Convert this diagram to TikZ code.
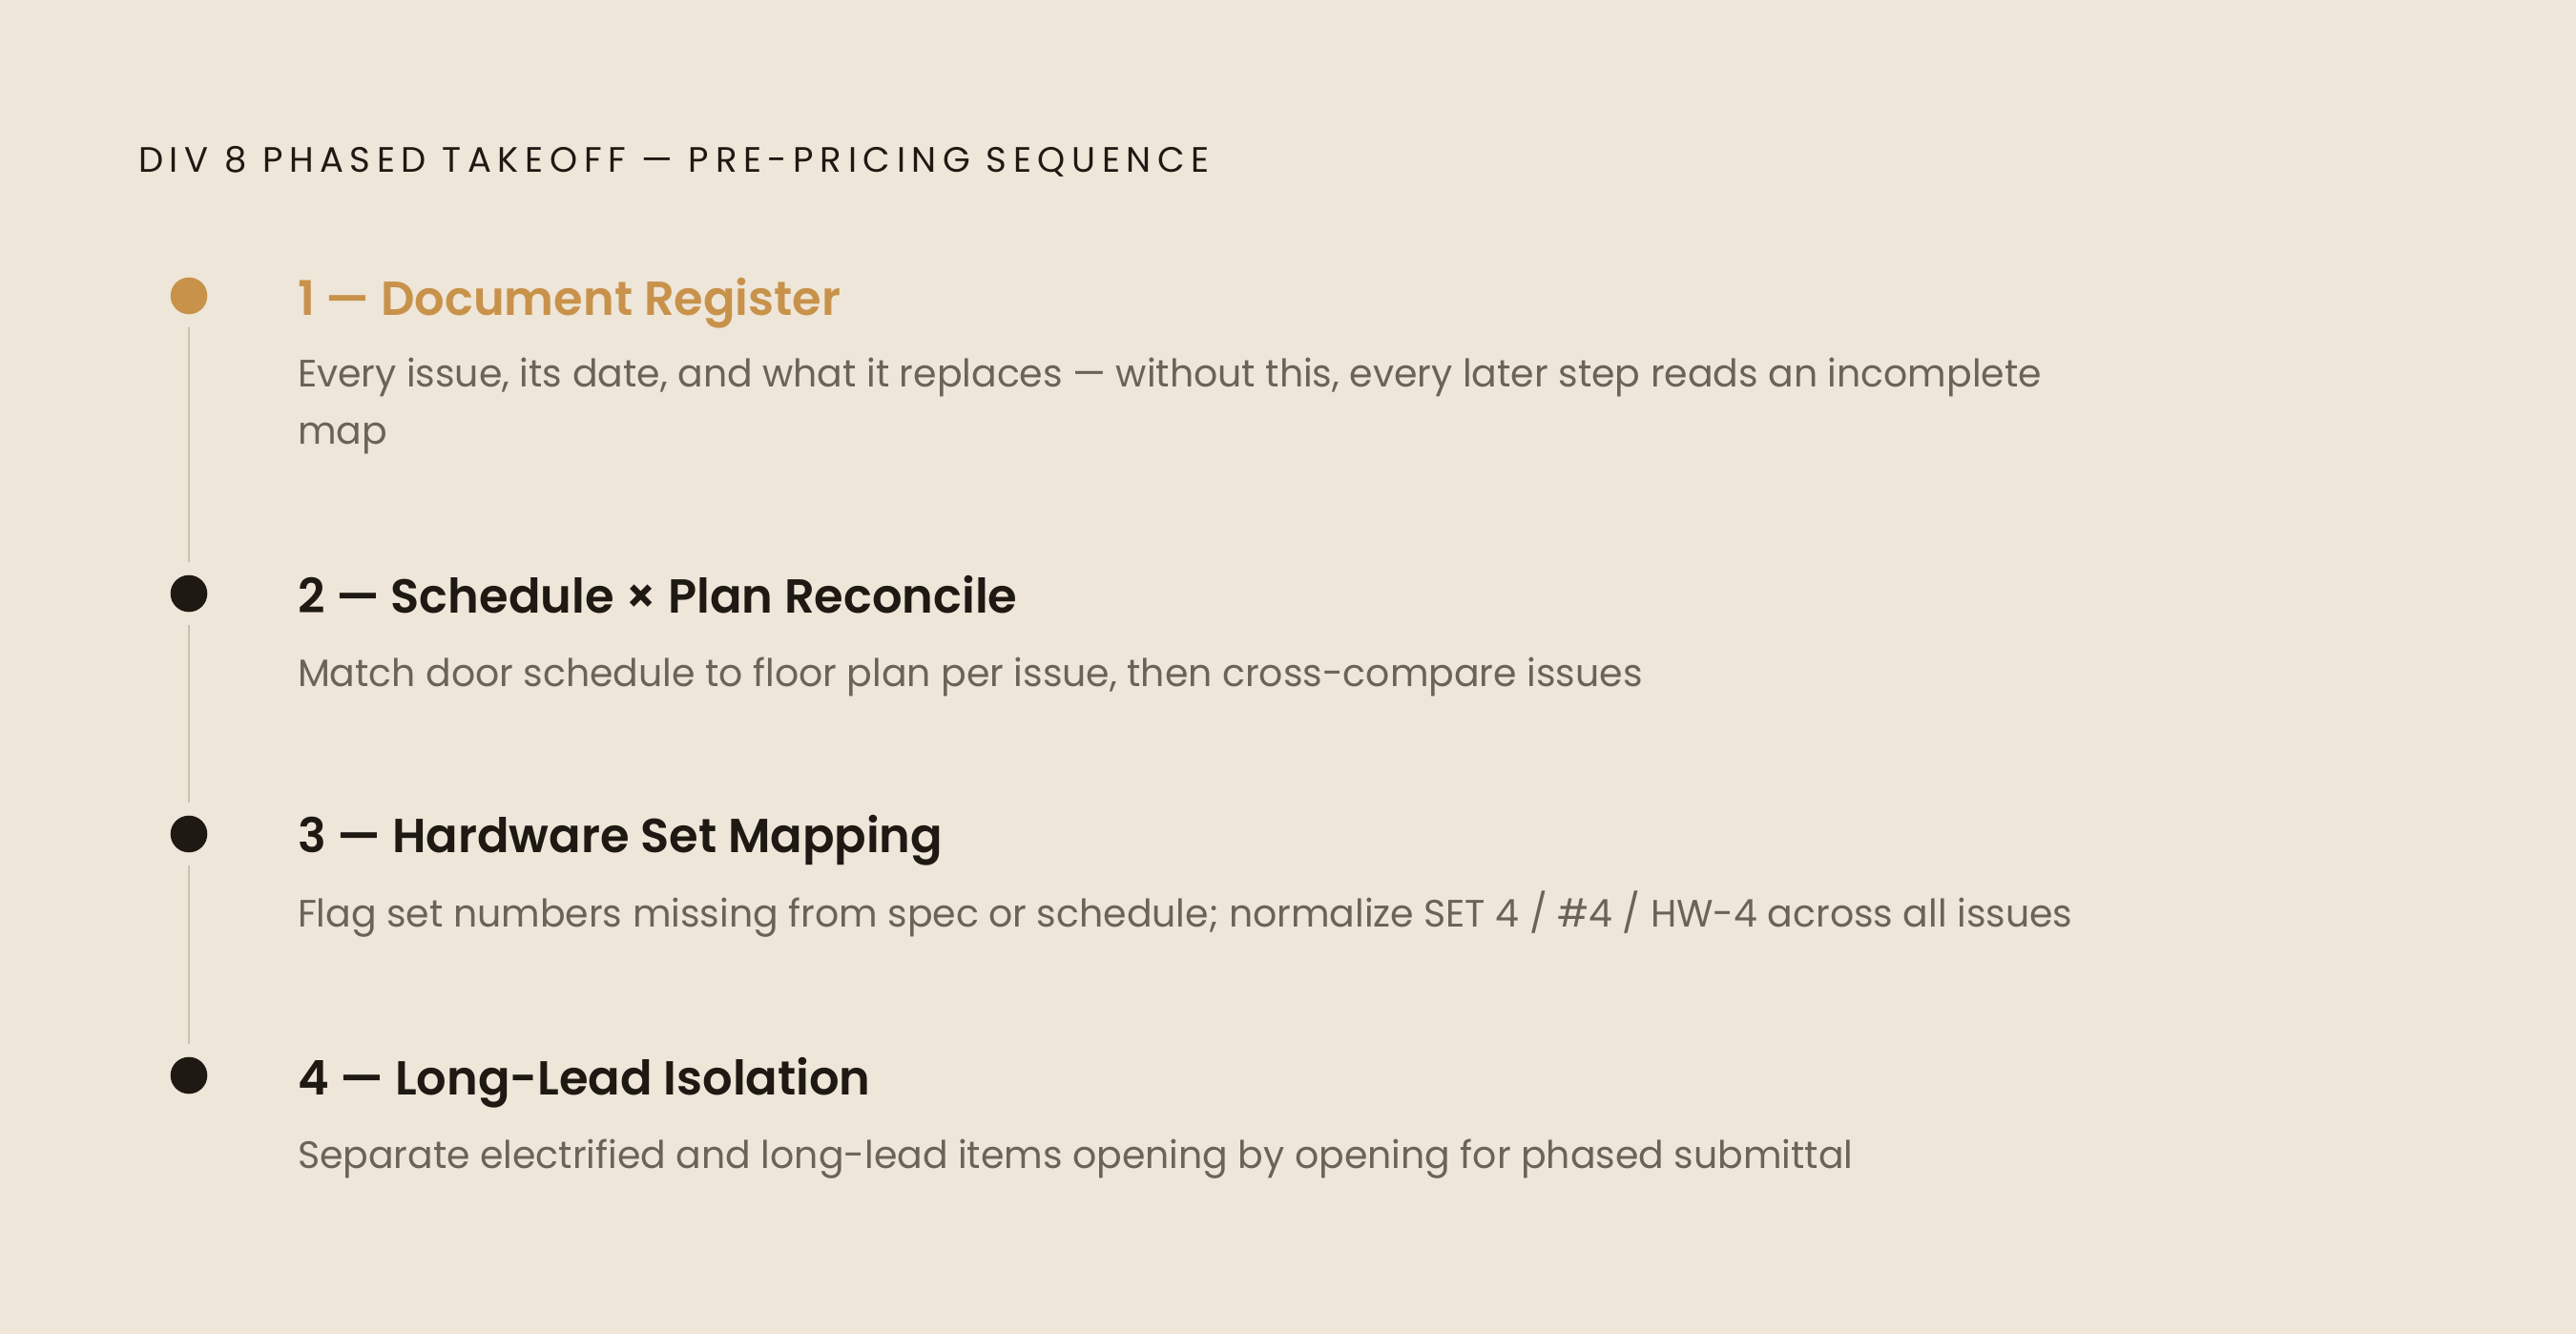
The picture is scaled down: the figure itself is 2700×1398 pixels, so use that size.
\documentclass[tikz,border=0pt]{standalone}
\usepackage{fontspec}
\setmainfont{Poppins}[FakeStretch=0.985]
\newfontfamily\titlefont{Poppins}[LetterSpace=18]
\newfontfamily\headfont{Poppins SemiBold}[FakeStretch=0.99]
\definecolor{bg}{HTML}{EEE6D8}
\definecolor{gold}{HTML}{C8924B}
\definecolor{ink}{HTML}{1E1913}
\definecolor{bodygray}{HTML}{6B635A}
\definecolor{rail}{HTML}{C9C0B0}
\begin{document}
\begin{tikzpicture}[x=0.5pt,y=-0.5pt,
  txt/.style={anchor=base west,inner sep=0pt,outer sep=0pt},
  titlestyle/.style={txt,font=\titlefont\fontsize{18.5pt}{22pt}\selectfont,text=ink},
  headstyle/.style={txt,font=\headfont\fontsize{25pt}{30pt}\selectfont,text=ink},
  bodystyle/.style={txt,font=\fontsize{20pt}{30pt}\selectfont,text=bodygray},
  dotstyle/.style={circle,inner sep=0pt,minimum size=19.3pt,fill=ink},
  railstyle/.style={draw=rail,line width=1pt,shorten <=6.5pt,shorten >=6.5pt}]
\fill[bg] (0,0) rectangle (2700,1398);
\useasboundingbox (0,0) rectangle (2700,1398);

\node[titlestyle] (title) at (145,180) {DIV 8 PHASED TAKEOFF — PRE-PRICING SEQUENCE};

\node[dotstyle,fill=gold] (d1) at (198,310) {};
\node[dotstyle] (d2) at (198,622) {};
\node[dotstyle] (d3) at (198,874) {};
\node[dotstyle] (d4) at (198,1127) {};

\draw[railstyle] (d1) -- (d2);
\draw[railstyle] (d2) -- (d3);
\draw[railstyle] (d3) -- (d4);

\node[headstyle,text=gold] (h1) at (312,330) {1 — Document Register};
\node[bodystyle] (b1a) at (312,405) {Every issue, its date, and what it replaces — without this, every later step reads an incomplete};
\node[bodystyle] (b1b) at (312,465) {map};

\node[headstyle] (h2) at (312,642) {2 — Schedule × Plan Reconcile};
\node[bodystyle] (b2) at (312,719) {Match door schedule to floor plan per issue, then cross-compare issues};

\node[headstyle] (h3) at (312,893) {3 — Hardware Set Mapping};
\node[bodystyle] (b3) at (312,971) {Flag set numbers missing from spec or schedule; normalize SET 4 / \#4 / HW-4 across all issues};

\node[headstyle] (h4) at (312,1147) {4 — Long-Lead Isolation};
\node[bodystyle] (b4) at (312,1224) {Separate electrified and long-lead items opening by opening for phased submittal};
\end{tikzpicture}
\end{document}
